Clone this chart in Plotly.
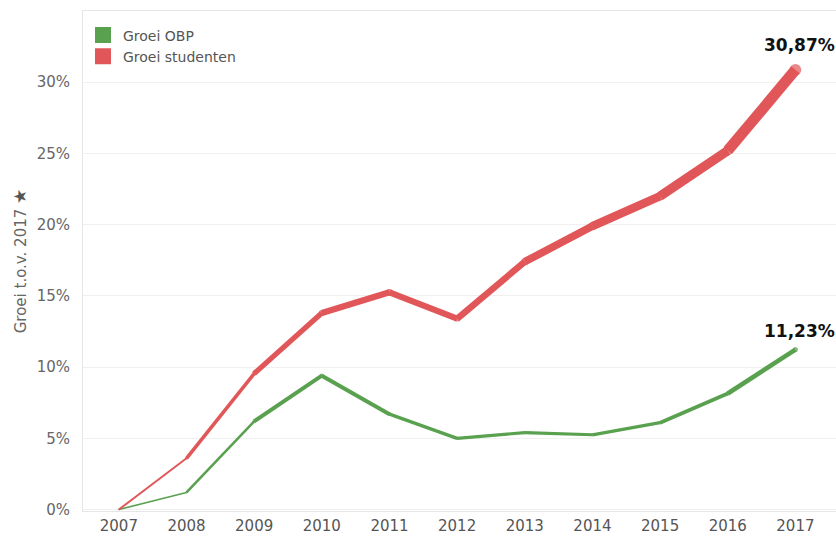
import plotly.graph_objects as go

years = [2007, 2008, 2009, 2010, 2011, 2012, 2013, 2014, 2015, 2016, 2017]
groei_obp = [0.0, 1.2, 6.2, 9.4, 6.7, 5.0, 5.4, 5.25, 6.1, 8.15, 11.23]
groei_studenten = [0.0, 3.6, 9.55, 13.8, 15.25, 13.4, 17.4, 19.9, 22.0, 25.2, 30.87]
series_names = ["Groei OBP", "Groei studenten"]
series_colors = ["#59A14F", "#E15759"]
end_labels = ["11,23%", "30,87%"]
label_shift = [19, 25]
y_ticks = [0, 5, 10, 15, 20, 25, 30]
y_ticktext = ["0%", "5%", "10%", "15%", "20%", "25%", "30%"]

FONT = "DejaVu Sans"


def width(v):
    return 1.3 + 0.34 * v


fig = go.Figure()

for name, vals, col in zip(series_names, [groei_obp, groei_studenten], series_colors):
    for i in range(len(years) - 1):
        w = width((vals[i] + vals[i + 1]) / 2)
        fig.add_trace(go.Scatter(
            x=[years[i], years[i + 1]], y=[vals[i], vals[i + 1]],
            mode="lines", line=dict(color=col, width=w),
            showlegend=False, hoverinfo="skip"))
    fig.add_trace(go.Scatter(
        x=years, y=vals, mode="markers",
        marker=dict(color=col, size=[width(v) for v in vals], line=dict(width=0)),
        showlegend=False, hoverinfo="skip"))
    # legend entry
    fig.add_trace(go.Scatter(
        x=[None], y=[None], mode="markers", name=name,
        marker=dict(color=col, symbol="square", size=17)))

for vals, lab, ys in zip([groei_obp, groei_studenten], end_labels, label_shift):
    fig.add_annotation(x=years[-1], y=vals[-1], text="<b>" + lab + "</b>",
                       showarrow=False, yshift=ys, xshift=4,
                       font=dict(family=FONT, size=17, color="#111"))

fig.update_layout(
    width=836, height=536,
    margin=dict(l=83, r=0, t=11, b=25, autoexpand=False),
    paper_bgcolor="white", plot_bgcolor="white",
    font=dict(family=FONT, size=15, color="#666"),
    legend=dict(x=0.0, y=0.983, xanchor="left", yanchor="top",
                font=dict(size=14, color="#555", family=FONT), itemsizing="trace",
                bgcolor="rgba(0,0,0,0)", tracegroupgap=2),
    xaxis=dict(range=[2006.47, 2017.6], tickvals=years, ticktext=[str(y) for y in years],
               showgrid=False, zeroline=False, showline=True, linecolor="#e6e6e6",
               mirror=True, ticks="", automargin=False, ticklabelstandoff=1,
               tickfont=dict(size=15, color="#555")),
    yaxis=dict(range=[-0.1, 35], tickvals=y_ticks, ticktext=y_ticktext,
               showgrid=True, gridcolor="#f0f0f0", zeroline=False,
               showline=True, linecolor="#e6e6e6", mirror=True,
               ticks="", ticklabelstandoff=9, automargin=False,
               tickfont=dict(size=15, color="#666"),
               title=dict(text="Groei t.o.v. 2017 <span style='color:#555;font-size:17px'>★</span>",
                          font=dict(size=15, color="#666"), standoff=6)),
)

fig.write_html("out.html", config={"displayModeBar": False},
               post_script="document.body.style.margin='0';document.body.style.overflow='hidden';")
